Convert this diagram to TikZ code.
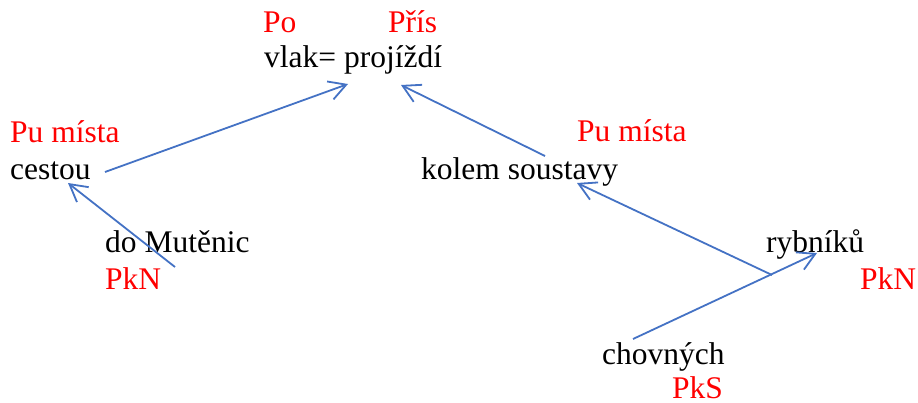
\documentclass[tikz,border=0pt]{standalone}
\usepackage{fontspec}
\setmainfont{Liberation Serif}
\usetikzlibrary{arrows.meta}
\definecolor{lineblue}{RGB}{68,114,196}
\definecolor{labred}{RGB}{255,0,0}
\tikzset{
  word/.style={anchor=base west, inner sep=0pt, font=\fontsize{31.5}{36}\selectfont, text=black},
  role/.style={word, text=labred},
  link/.style={draw=lineblue, line width=1.8pt, -{Straight Barb[length=17pt,width=19pt,line width=1.8pt]}}
}
\begin{document}
\begin{tikzpicture}[x=1pt,y=-1pt]
\useasboundingbox (0,0) rectangle (918,403);
\node[role] (po) at (263,33) {Po};
\node[role] (pris) at (388,33) {Přís};
\node[word] (vlak) at (264,68) {vlak= projíždí};
\node[role] (pu1) at (10,143) {Pu místa};
\node[word] (cestou) at (10,180) {cestou};
\node[word] (mut) at (105,253) {do Mutěnic};
\node[role] (pkn1) at (105,290) {PkN};
\node[role] (pu2) at (577,142) {Pu místa};
\node[word] (kolem) at (421,180) {kolem soustavy};
\node[word] (ryb) at (766,253) {rybníků};
\node[role] (pkn2) at (860,290) {PkN};
\node[word] (chov) at (602,364) {chovných};
\node[role] (pks) at (672,398) {PkS};
% connector end points
\coordinate (c1s) at (105,172);
\coordinate (c1e) at (348,84);
\coordinate (c2s) at (175,267);
\coordinate (c2e) at (68,183);
\coordinate (c3s) at (545,156);
\coordinate (c3e) at (401,85);
\coordinate (c4s) at (772,275);
\coordinate (c4e) at (577,183);
\coordinate (c5s) at (633,339);
\coordinate (c5e) at (817,253);
\draw[link] (c1s) -- (c1e);
\draw[link] (c2s) -- (c2e);
\draw[link] (c3s) -- (c3e);
\draw[link] (c4s) -- (c4e);
\draw[link] (c5s) -- (c5e);
\end{tikzpicture}
\end{document}
